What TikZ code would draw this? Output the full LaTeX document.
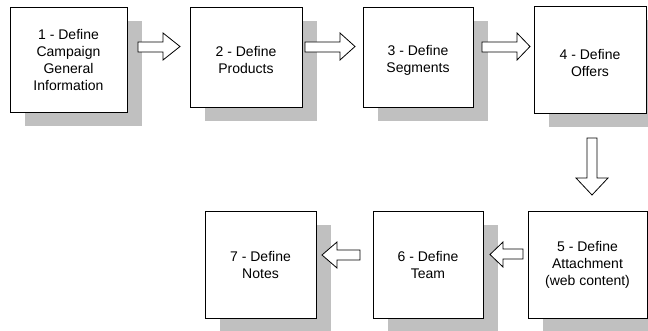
\documentclass[tikz,border=0pt]{standalone}
\usepackage{fontspec}
\setmainfont{Liberation Sans}
\usetikzlibrary{shadows}
\definecolor{shadowgray}{HTML}{C0C0C0}
\newcommand{\pushdown}{\rule{0pt}{17pt}}
\begin{document}
\begin{tikzpicture}[x=1pt,y=-1pt,
  stepbox/.style={draw=black, line width=0.8pt, fill=white, align=center,
    font=\fontsize{14}{17}\selectfont, inner sep=0pt,
    general shadow={fill=shadowgray, shadow xshift=15pt, shadow yshift=-14pt}},
  blockarrow/.style={draw=black, line width=0.8pt, fill=white, line join=miter}]
\useasboundingbox (0,0) rectangle (648,331);
% boxes
\node[stepbox, minimum width=117pt, minimum height=105pt] (b1) at (68.5,59.5) {1 - Define\\Campaign\\General\\Information};
\node[stepbox, minimum width=112pt, minimum height=100pt] (b2) at (246,57) {\pushdown 2 - Define\\Products};
\node[stepbox, minimum width=110pt, minimum height=100pt] (b3) at (418,57) {\pushdown 3 - Define\\Segments};
\node[stepbox, minimum width=112pt, minimum height=107pt] (b4) at (590,59.5) {\pushdown 4 - Define\\Offers};
\node[stepbox, minimum width=119pt, minimum height=107pt] (b5) at (587.5,264.5) {5 - Define\\Attachment\\(web content)};
\node[stepbox, minimum width=110pt, minimum height=107pt] (b6) at (428,264.5) {6 - Define\\Team};
\node[stepbox, minimum width=111pt, minimum height=107pt] (b7) at (260.5,264.5) {7 - Define\\Notes};
% block arrows
\draw[blockarrow] (138,42) -- (163,42) -- (163,33) -- (180,46.5) -- (163,60) -- (163,52) -- (138,52) -- cycle;
\draw[blockarrow] (305,42) -- (340,42) -- (340,33) -- (355,46.5) -- (340,60) -- (340,52) -- (305,52) -- cycle;
\draw[blockarrow] (482,42) -- (517,42) -- (517,33) -- (530,46.5) -- (517,60) -- (517,52) -- (482,52) -- cycle;
\draw[blockarrow] (587,138) -- (587,178) -- (576,178) -- (592,195) -- (608,178) -- (597,178) -- (597,138) -- cycle;
\draw[blockarrow] (523,249) -- (503,249) -- (503,242) -- (490,254.5) -- (503,267) -- (503,259) -- (523,259) -- cycle;
\draw[blockarrow] (360,250) -- (337,250) -- (337,242) -- (322,255) -- (337,268) -- (337,260) -- (360,260) -- cycle;
\end{tikzpicture}
\end{document}
